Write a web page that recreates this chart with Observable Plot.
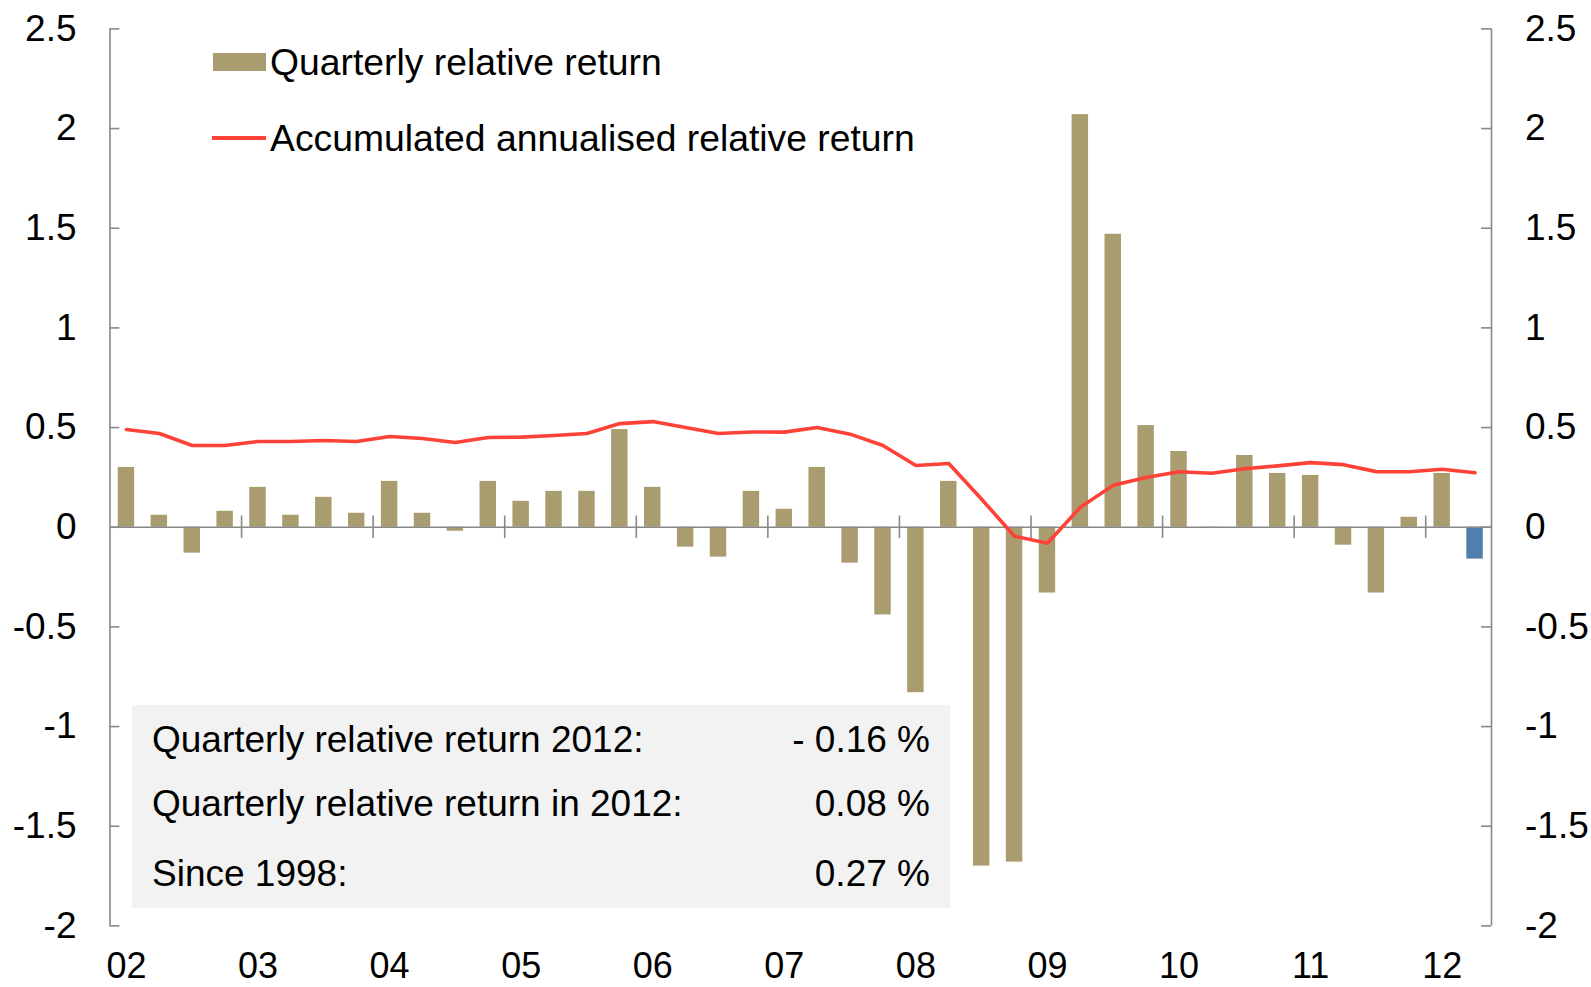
<!DOCTYPE html>
<html>
<head>
<meta charset="utf-8">
<script src="https://cdn.jsdelivr.net/npm/d3@7"></script>
<script src="https://cdn.jsdelivr.net/npm/@observablehq/plot@0.6"></script>
<style>
  html, body { margin: 0; padding: 0; background: #fff; }
  #wrap { position: relative; width: 1591px; height: 987px; font-family: "Liberation Sans", Arial, sans-serif; color: #000; }
  #chart svg { display: block; }
  .leg { position: absolute; font-size: 37.3px; line-height: 1; white-space: nowrap; }
  .sw { position: absolute; }
  #box { position: absolute; left: 132px; top: 705px; width: 818px; height: 203px; background: #f2f2f2; }
  .row { position: absolute; left: 20px; right: 20px; font-size: 37px; line-height: 1; white-space: nowrap; }
  .row .v { position: absolute; right: 0; top: 0; }
</style>
</head>
<body>
<div id="wrap">
  <div id="chart"></div>
  <div class="sw" style="left:213px; top:53px; width:53px; height:18px; background:#A99C6E;"></div>
  <div class="leg" style="left:270px; top:44px;">Quarterly relative return</div>
  <div class="sw" style="left:212px; top:136px; width:54px; height:4px; background:#FF4238;"></div>
  <div class="leg" style="left:270px; top:120px;">Accumulated annualised relative return</div>
  <div id="box">
    <div class="row" style="top:16px;">Quarterly relative return 2012:<span class="v">- 0.16 %</span></div>
    <div class="row" style="top:80px;">Quarterly relative return in 2012:<span class="v">0.08 %</span></div>
    <div class="row" style="top:150px;">Since 1998:<span class="v">0.27 %</span></div>
  </div>
</div>
<script>
// Quarters 2002 Q1 .. 2012 Q2
const quarters = [];
for (let y = 2002; y <= 2012; y++) for (let q = 1; q <= 4; q++) quarters.push(`${y} Q${q}`);
quarters.length = 42;

const quarterlyReturn = [
  0.30, 0.06, -0.13, 0.08,
  0.20, 0.06, 0.15, 0.07,
  0.23, 0.07, -0.02, 0.23,
  0.13, 0.18, 0.18, 0.49,
  0.20, -0.10, -0.15, 0.18,
  0.09, 0.30, -0.18, -0.44,
  -0.83, 0.23, -1.70, -1.68,
  -0.33, 2.07, 1.47, 0.51,
  0.38, -0.005, 0.36, 0.27,
  0.26, -0.09, -0.33, 0.05,
  0.27, -0.16
];

const accumulatedReturn = [
  0.49, 0.47, 0.41, 0.41,
  0.43, 0.43, 0.435, 0.43,
  0.455, 0.445, 0.425, 0.45,
  0.452, 0.46, 0.47, 0.52,
  0.53, 0.50, 0.47, 0.478,
  0.477, 0.50, 0.467, 0.41,
  0.31, 0.32, 0.14, -0.045,
  -0.08, 0.10, 0.21, 0.25,
  0.278, 0.271, 0.293, 0.308,
  0.324, 0.314, 0.279, 0.278,
  0.291, 0.273
];

const yearLabels = ["02","03","04","05","06","07","08","09","10","11","12"];
const yTicks = [-2, -1.5, -1, -0.5, 0, 0.5, 1, 1.5, 2, 2.5];
const highlightQuarter = "2012 Q2";

const tan = "#A99C6E", blue = "#4F7FAA", red = "#FF4238", axisGray = "#888888";

const data = quarters.map((q, i) => ({q, i, v: quarterlyReturn[i], acc: accumulatedReturn[i]}));
const labelIdx = yearLabels.map((_, k) => k * 4);
const yearBoundaries = yearLabels.slice(1).map((_, k) => (k + 1) * 4 - 0.5);
const xMin = -0.5, xMax = quarters.length - 0.5;

const chart = Plot.plot({
  width: 1591,
  height: 987,
  marginLeft: 109.5,
  marginRight: 100,
  marginTop: 28.4,
  marginBottom: 61.6,
  x: {domain: [xMin, xMax], axis: null},
  y: {domain: [-2, 2.5], axis: null},
  style: {fontFamily: "'Liberation Sans', Arial, sans-serif", background: "white", overflow: "visible"},
  marks: [
    Plot.rectY(data, {
      x1: d => d.i - 0.25, x2: d => d.i + 0.25, y1: 0, y2: "v",
      fill: d => d.q === highlightQuarter ? blue : tan
    }),
    // zero line
    Plot.ruleY([0], {x1: xMin, x2: xMax, stroke: axisGray, strokeWidth: 1.6}),
    // year ticks on zero line
    Plot.ruleX(yearBoundaries, {y1: -0.056, y2: 0.056, stroke: axisGray, strokeWidth: 1.6}),
    // vertical axes
    Plot.ruleX([xMin, xMax], {y1: -2, y2: 2.5, stroke: axisGray, strokeWidth: 1.6}),
    // inward y ticks
    Plot.ruleY(yTicks, {x1: xMin, x2: xMin + 0.3, stroke: axisGray, strokeWidth: 1.6}),
    Plot.ruleY(yTicks, {x1: xMax - 0.3, x2: xMax, stroke: axisGray, strokeWidth: 1.6}),
    // accumulated line
    Plot.line(data, {x: "i", y: "acc", stroke: red, strokeWidth: 3.6, strokeLinejoin: "round"}),
    // y tick labels
    Plot.text(yTicks, {y: d => d, frameAnchor: "left", dx: -33.5, dy: 0, textAnchor: "end", text: d => String(d), fontSize: 37, fill: "black"}),
    Plot.text(yTicks, {y: d => d, frameAnchor: "right", dx: 33.5, dy: 0, textAnchor: "start", text: d => String(d), fontSize: 37, fill: "black"}),
    // x labels
    Plot.text(labelIdx, {x: d => d, frameAnchor: "bottom", dy: 52, text: (d, k) => yearLabels[k], fontSize: 36, fill: "black"})
  ]
});
document.getElementById("chart").append(chart);
</script>
</body>
</html>
